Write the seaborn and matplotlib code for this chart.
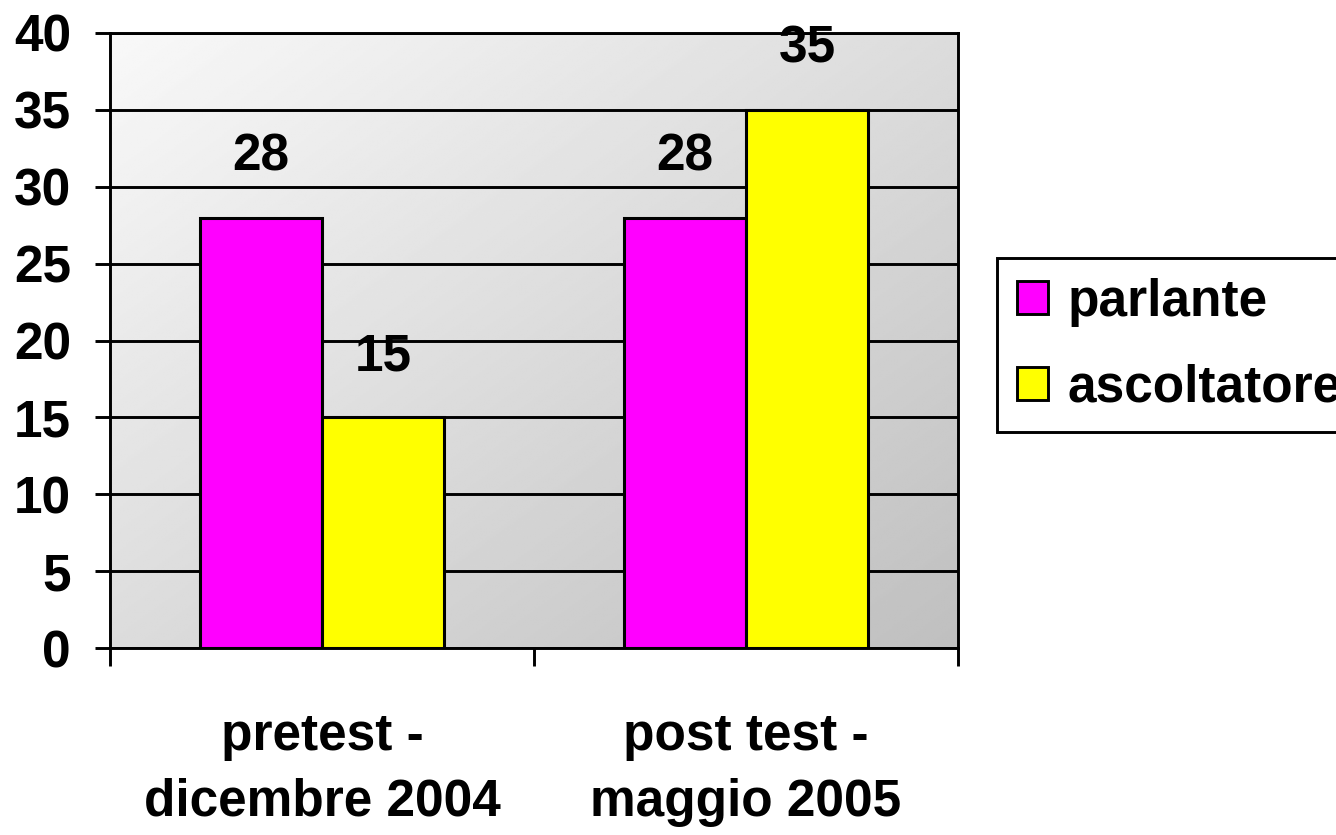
import numpy as np
import pandas as pd
import matplotlib
matplotlib.use("Agg")
import matplotlib.pyplot as plt
from matplotlib.patches import Patch
import seaborn as sns

# data
categories = ["pretest -\ndicembre 2004", "post test -\nmaggio 2005"]
series = ["parlante", "ascoltatore"]
parlante = [28, 28]
ascoltatore = [15, 35]
colors = ["#FF00FF", "#FFFF00"]
yticks = [0, 5, 10, 15, 20, 25, 30, 35, 40]

df = pd.DataFrame({
    "periodo": categories * 2,
    "serie": [series[0]] * 2 + [series[1]] * 2,
    "valore": parlante + ascoltatore,
})

sns.set_style("white")
plt.rcParams["font.family"] = ["Liberation Sans", "DejaVu Sans"]
plt.rcParams["font.weight"] = "bold"
plt.rcParams["text.color"] = "black"
plt.rcParams["xtick.color"] = "black"
plt.rcParams["ytick.color"] = "black"

FS = 37
LW = 2.1
W, H = 1336, 835
fig = plt.figure(figsize=(W / 100, H / 100), dpi=100)
ax = fig.add_axes([110 / W, 1 - 648 / H, (958 - 110) / W, (648 - 33) / H])

# diagonal grey gradient background
X, Y = np.meshgrid(np.linspace(0, 1, 300), np.linspace(0, 1, 300))
g = (X + Y) / 2
ax.imshow(0.975 - 0.225 * g, cmap="gray", vmin=0, vmax=1, extent=[0, 1, 0, 1],
          transform=ax.transAxes, aspect="auto", zorder=0, interpolation="bilinear")

sns.barplot(data=df, x="periodo", y="valore", hue="serie", palette=colors,
            saturation=1, width=0.575, edgecolor="black", linewidth=2.2,
            ax=ax, legend=False, zorder=2)

for cont in ax.containers:
    ax.bar_label(cont, padding=26, fontsize=FS, fontweight="bold", color="black")

ax.set_xlim(-0.5, 1.5)
ax.set_ylim(0, 40)
ax.set_yticks(yticks)
ax.set_yticklabels([str(v) for v in yticks], fontsize=FS, fontweight="bold")
ax.tick_params(axis="y", direction="out", length=11, width=LW, pad=17, left=True)

ax.set_xticks([-0.5, 0.5, 1.5])
ax.set_xticklabels([])
ax.set_xticks([0, 1], minor=True)
ax.set_xticklabels(categories, minor=True, fontsize=FS, fontweight="bold",
                   linespacing=1.45)
ax.tick_params(axis="x", which="major", direction="out", length=13, width=LW, bottom=True)
ax.tick_params(axis="x", which="minor", length=0, pad=46)

ax.set_xlabel("")
ax.set_ylabel("")
ax.set_axisbelow(True)
ax.yaxis.grid(True, color="black", linewidth=LW)
ax.xaxis.grid(False)
for s in ax.spines.values():
    s.set_visible(True)
    s.set_color("black")
    s.set_linewidth(LW)

handles = [Patch(facecolor=c, edgecolor="black", linewidth=LW) for c in colors]
leg = fig.legend(handles, series, loc="upper left",
                 bbox_to_anchor=(997 / W, 1 - 258 / H), borderaxespad=0,
                 prop={"size": FS, "weight": "bold"}, fancybox=False,
                 frameon=True, edgecolor="black", framealpha=1,
                 handlelength=0.62, handleheight=0.62, handletextpad=0.38,
                 labelspacing=0.72, borderpad=0.38)
leg.get_frame().set_linewidth(LW)

fig.savefig("out.png", dpi=100)
